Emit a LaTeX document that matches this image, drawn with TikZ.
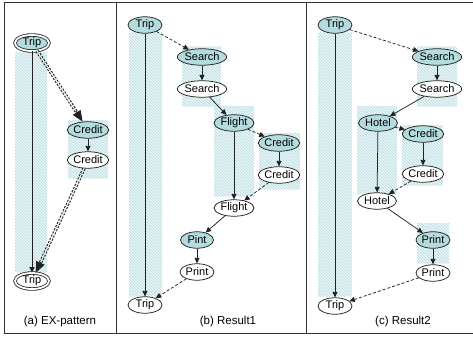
\documentclass[tikz,border=0pt]{standalone}
\usepackage{fontspec}
\setmainfont{Liberation Sans}
\usetikzlibrary{arrows.meta,patterns,shapes.geometric}
\definecolor{tealfill}{HTML}{B4DCDF}
\definecolor{hatchbg}{HTML}{EDF7F8}
\definecolor{hatchln}{HTML}{B0D9DF}
\definecolor{edgec}{HTML}{222222}
\begin{document}
\begin{tikzpicture}[x=1pt,y=-1pt,
  nd/.style={ellipse, draw=edgec, line width=0.75pt, inner sep=0pt,
    minimum height=16.5pt, minimum width=40pt, font=\fontsize{11}{12}\selectfont},
  act/.style={nd, fill=tealfill},
  inact/.style={nd, fill=white},
  dbl/.style={double=white, double distance=1.8pt, line width=0.8pt, minimum width=34pt, minimum height=16pt},
  shadebox/.style={pattern=north west lines, pattern color=hatchln, preaction={fill=hatchbg}, draw=none},
  sol/.style={-{Triangle[length=5.5pt,width=5pt]}, line width=0.75pt, draw=edgec},
  dsh/.style={sol, dash pattern=on 3pt off 2pt},
  ddsh/.style={draw=edgec, line width=1.1pt, double=white, double distance=1.2pt, dash pattern=on 2pt off 1.5pt},
  bigtip/.style={-{Triangle[length=11pt,width=9pt]}, line width=1pt, draw=edgec, fill=edgec},
  captxt/.style={font=\fontsize{11.5}{13}\selectfont}
]
\useasboundingbox (0,0) rectangle (473,342);
% frame
\draw[line width=0.8pt, draw=black!80] (473,2.5) -- (4,2.5) -- (4,333) -- (473,333);
\draw[line width=0.8pt, draw=black!80] (116,2.5) -- (116,333);
\draw[line width=0.8pt, draw=black!80] (306,2.5) -- (306,333);

% shaded boxes
\fill[shadebox] (15,53) rectangle (47,272);
\fill[shadebox] (68,120) rectangle (108,178);

\fill[shadebox] (129,33) rectangle (162,296);
\fill[shadebox] (182,47) rectangle (221,106);
\fill[shadebox] (214,106) rectangle (254,196);
\fill[shadebox] (259,133) rectangle (300,189);

\fill[shadebox] (318,33) rectangle (352,296);
\fill[shadebox] (417,47) rectangle (457,106);
\fill[shadebox] (357,106) rectangle (397,194);
\fill[shadebox] (402,125) rectangle (443,185);
\fill[shadebox] (417,223) rectangle (449,263);

% panel (a)
\node[act, dbl] (TripA1) at (32,43) {Trip};
\node[act] (CreditA1) at (88,130) {Credit};
\node[inact] (CreditA2) at (88,160) {Credit};
\node[inact, dbl] (TripA2) at (32,281) {Trip};
\node[captxt] (capA) at (60,322) {(a) EX-pattern};

\draw[sol] (TripA1) -- (TripA2);
\draw[sol] (CreditA1) -- (CreditA2);
\draw[ddsh, shorten >=10pt] (TripA1) -- (CreditA1);
\path (TripA1) -- coordinate[pos=0.85] (tA1) (CreditA1);
\draw[bigtip] (tA1) -- (CreditA1);
\draw[ddsh, shorten >=10pt] (CreditA2) -- (TripA2);
\path (CreditA2) -- coordinate[pos=0.9] (tA2) (TripA2);
\draw[bigtip] (tA2) -- (TripA2);

% panel (b)
\node[act, minimum width=34pt] (TripB1) at (145,25) {Trip};
\node[act] (SearchB1) at (202,57) {Search};
\node[inact] (SearchB2) at (202,89) {Search};
\node[act] (FlightB1) at (234,123) {Flight};
\node[act] (CreditB1) at (279,143) {Credit};
\node[inact] (CreditB2) at (279,175) {Credit};
\node[inact] (FlightB2) at (234,208) {Flight};
\node[act, minimum width=33pt] (PintB) at (197,240) {Pint};
\node[inact, minimum width=34pt] (PrintB) at (197,272) {Print};
\node[inact, minimum width=34pt] (TripB2) at (145,305) {Trip};
\node[captxt] (capB) at (228,322) {(b) Result1};

\draw[dsh] (TripB1) -- (SearchB1);
\draw[sol] (SearchB1) -- (SearchB2);
\draw[sol] (SearchB2) -- (FlightB1);
\draw[dsh] (FlightB1) -- (CreditB1);
\draw[sol] (CreditB1) -- (CreditB2);
\draw[dsh] (CreditB2) -- (FlightB2);
\draw[sol] (FlightB1) -- (FlightB2);
\draw[sol] (FlightB2) -- (PintB);
\draw[sol] (PintB) -- (PrintB);
\draw[dsh] (PrintB) -- (TripB2);
\draw[sol] (TripB1) -- (TripB2);

% panel (c)
\node[act, minimum width=34pt] (TripC1) at (335,25) {Trip};
\node[act] (SearchC1) at (437,57) {Search};
\node[inact] (SearchC2) at (437,89) {Search};
\node[act, minimum width=39pt] (HotelC1) at (378,123) {Hotel};
\node[act] (CreditC1) at (423,134) {Credit};
\node[inact] (CreditC2) at (423,174) {Credit};
\node[inact, minimum width=39pt] (HotelC2) at (377,201) {Hotel};
\node[act, minimum width=34pt] (PrintC1) at (433,240) {Print};
\node[inact, minimum width=34pt] (PrintC2) at (433,273) {Print};
\node[inact, minimum width=34pt] (TripC2) at (335,306) {Trip};
\node[captxt] (capC) at (403,322) {(c) Result2};

\draw[dsh] (TripC1) -- (SearchC1);
\draw[sol] (SearchC1) -- (SearchC2);
\draw[sol] (SearchC2) -- (HotelC1);
\draw[dsh] (HotelC1) -- (CreditC1);
\draw[sol] (CreditC1) -- (CreditC2);
\draw[dsh] (CreditC2) -- (HotelC2);
\draw[sol] (HotelC1) -- (HotelC2);
\draw[sol] (HotelC2) -- (PrintC1);
\draw[sol] (PrintC1) -- (PrintC2);
\draw[dsh] (PrintC2) -- (TripC2);
\draw[sol] (TripC1) -- (TripC2);
\end{tikzpicture}
\end{document}
